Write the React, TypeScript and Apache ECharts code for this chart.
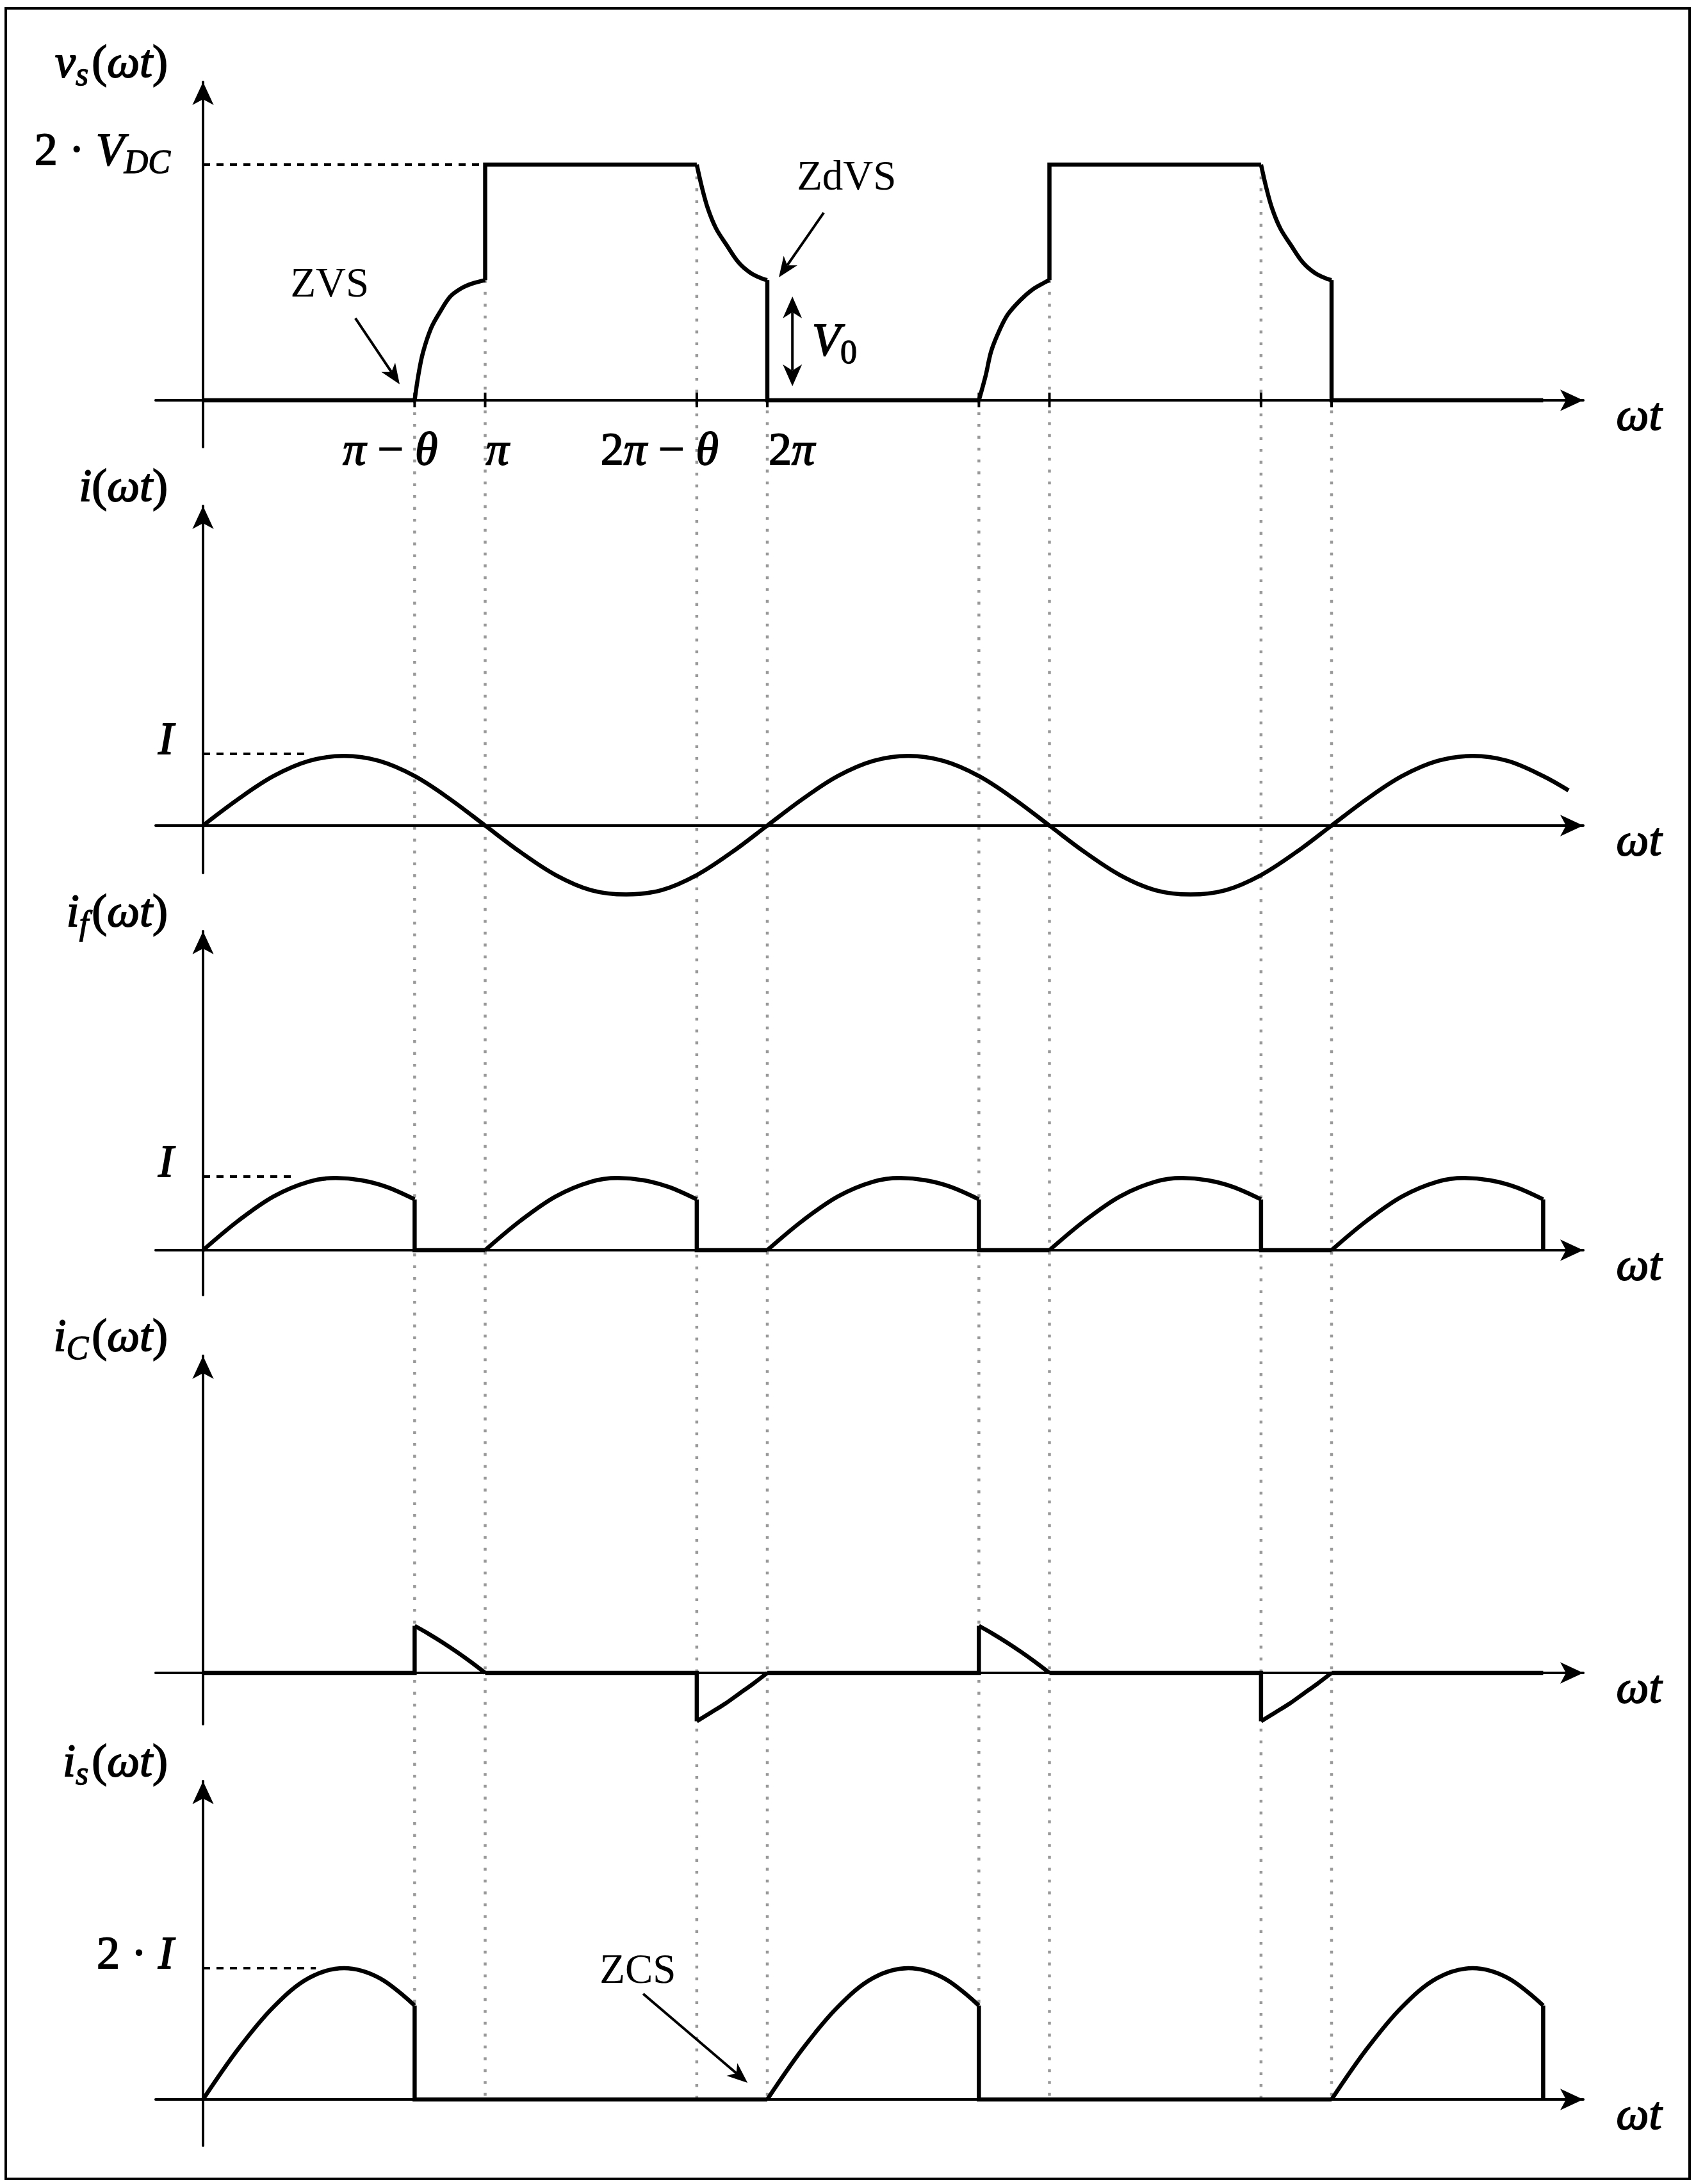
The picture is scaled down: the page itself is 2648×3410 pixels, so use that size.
import React, { useEffect, useRef } from "react";
import * as echarts from "echarts";

// ---------------- data (x in units of π, θ = π/4) ----------------
const TRANSITIONS = [0.75, 1, 1.75, 2, 2.75, 3, 3.75, 4]; // π−θ, π, 2π−θ, 2π, ...
const VS_AT_TRANSITIONS = [0, 1.02, 2, 1.02, 0, 1.02, 2, 1.02];
const TICK_VALUES = [0.75, 1, 1.75, 2];
const TICK_TEXTS = ["{i|π}{u| − }{i|θ}", "{i|π}", "{u|2}{i|π}{u| − }{i|θ}", "{u|2}{i|π}"];

// v_s(ωt) in units of V_DC
const VS_STEPS = [
  [[0, 0], [0.75, 0]],
  [[1, 1.02], [1, 2], [1.75, 2]],
  [[2, 1.02], [2, 0], [2.75, 0]],
  [[3, 1.02], [3, 2], [3.75, 2]],
  [[4, 1.02], [4, 0], [4.75, 0]],
];
const VS_CURVES = [
  [[0.75, 0], [0.763, 0.21], [0.779, 0.4], [0.808, 0.61], [0.84, 0.75], [0.876, 0.88], [0.915, 0.95], [0.953, 0.99], [1, 1.02]],
  [[1.75, 2], [1.768, 1.81], [1.789, 1.63], [1.818, 1.46], [1.855, 1.32], [1.898, 1.17], [1.941, 1.08], [1.984, 1.03], [2, 1.02]],
  [[2.75, 0], [2.774, 0.21], [2.794, 0.42], [2.824, 0.6], [2.853, 0.73], [2.897, 0.85], [2.94, 0.94], [2.983, 1.0], [3, 1.02]],
  [[3.75, 2], [3.768, 1.81], [3.789, 1.63], [3.818, 1.46], [3.855, 1.32], [3.898, 1.17], [3.941, 1.08], [3.984, 1.03], [4, 1.02]],
];
const VS_REF = [[0, 2], [1, 2]];

// i(ωt) in units of I
const I_WAVE = [
  [0, 0], [0.125, 0.37], [0.25, 0.69], [0.375, 0.9], [0.5, 0.97], [0.625, 0.9], [0.75, 0.69], [0.875, 0.37],
  [1, 0], [1.125, -0.37], [1.25, -0.69], [1.375, -0.9], [1.5, -0.96], [1.625, -0.9], [1.75, -0.69], [1.875, -0.37],
  [2, 0], [2.125, 0.37], [2.25, 0.69], [2.375, 0.9], [2.5, 0.97], [2.625, 0.9], [2.75, 0.69], [2.875, 0.37],
  [3, 0], [3.125, -0.37], [3.25, -0.69], [3.375, -0.9], [3.5, -0.96], [3.625, -0.9], [3.75, -0.69], [3.875, -0.37],
  [4, 0], [4.125, 0.37], [4.25, 0.69], [4.375, 0.9], [4.5, 0.97], [4.625, 0.9], [4.75, 0.69], [4.84, 0.49],
];
const I_REF = [[0, 1], [0.37, 1]];

// i_f(ωt) in units of I
const IF_ARCHES = [
  [[0, 0], [0.125, 0.4], [0.25, 0.73], [0.375, 0.93], [0.47, 0.98], [0.56, 0.95], [0.65, 0.86], [0.75, 0.69]],
  [[1, 0], [1.125, 0.4], [1.25, 0.73], [1.375, 0.93], [1.47, 0.98], [1.56, 0.95], [1.65, 0.86], [1.75, 0.69]],
  [[2, 0], [2.125, 0.4], [2.25, 0.73], [2.375, 0.93], [2.47, 0.98], [2.56, 0.95], [2.65, 0.86], [2.75, 0.69]],
  [[3, 0], [3.125, 0.4], [3.25, 0.73], [3.375, 0.93], [3.47, 0.98], [3.56, 0.95], [3.65, 0.86], [3.75, 0.69]],
  [[4, 0], [4.125, 0.4], [4.25, 0.73], [4.375, 0.93], [4.47, 0.98], [4.56, 0.95], [4.65, 0.86], [4.75, 0.69]],
];
const IF_STEPS = [
  [[0.75, 0.69], [0.75, 0], [1, 0]],
  [[1.75, 0.69], [1.75, 0], [2, 0]],
  [[2.75, 0.69], [2.75, 0], [3, 0]],
  [[3.75, 0.69], [3.75, 0], [4, 0]],
  [[4.75, 0.69], [4.75, 0]],
];
const IF_REF = [[0, 1], [0.32, 1]];

// i_C(ωt) in units of I
const IC_STEPS = [
  [[0, 0], [0.75, 0], [0.75, 0.7]],
  [[1, 0], [1.75, 0], [1.75, -0.72]],
  [[2, 0], [2.75, 0], [2.75, 0.7]],
  [[3, 0], [3.75, 0], [3.75, -0.72]],
  [[4, 0], [4.75, 0]],
];
const IC_CURVES = [
  [[0.75, 0.7], [0.8, 0.58], [0.85, 0.45], [0.9, 0.31], [0.95, 0.16], [1, 0]],
  [[1.75, -0.72], [1.8, -0.59], [1.85, -0.46], [1.9, -0.31], [1.95, -0.16], [2, 0]],
  [[2.75, 0.7], [2.8, 0.58], [2.85, 0.45], [2.9, 0.31], [2.95, 0.16], [3, 0]],
  [[3.75, -0.72], [3.8, -0.59], [3.85, -0.46], [3.9, -0.31], [3.95, -0.16], [4, 0]],
];

// i_s(ωt) in units of I
const IS_ARCHES = [
  [[0, 0], [0.125, 0.77], [0.25, 1.41], [0.375, 1.85], [0.5, 2], [0.625, 1.85], [0.75, 1.43]],
  [[2, 0], [2.125, 0.77], [2.25, 1.41], [2.375, 1.85], [2.5, 2], [2.625, 1.85], [2.75, 1.43]],
  [[4, 0], [4.125, 0.77], [4.25, 1.41], [4.375, 1.85], [4.5, 2], [4.625, 1.85], [4.75, 1.43]],
];
const IS_STEPS = [
  [[0.75, 1.43], [0.75, 0], [2, 0]],
  [[2.75, 1.43], [2.75, 0], [4, 0]],
  [[4.75, 1.43], [4.75, 0]],
];
const IS_REF = [[0, 2], [0.4, 2]];

const Y_TITLES = [
  "{i|v}{si|s}{u|(}{i|ωt}{u|)}",
  "{i|i}{u|(}{i|ωt}{u|)}",
  "{i|i}{si|f}{u|(}{i|ωt}{u|)}",
  "{i|i}{si|C}{u|(}{i|ωt}{u|)}",
  "{i|i}{si|s}{u|(}{i|ωt}{u|)}",
];
const LEVEL_LABELS = [
  { panel: 0, value: 2, text: "{u|2 · }{i|V}{si|DC}" },
  { panel: 1, value: 1, text: "{i|I}" },
  { panel: 2, value: 1, text: "{i|I}" },
  { panel: 4, value: 2, text: "{u|2 · }{i|I}" },
];

// ---------------- layout ----------------
const W = 2648;
const H = 3410;
const X_ZERO = 317;
const PX_PER_PI = 440.5;
const X_LEFT = 243;
const X_END = 2472;
const ARROW_W = 25;
const ARROW_H = 36;
const XMIN = (X_LEFT - X_ZERO) / PX_PER_PI;
const XMAX = (X_END - X_ZERO) / PX_PER_PI;
const PANELS = [
  { tip: 110, bottom: 698, base: 625, unit: 184 },
  { tip: 772, bottom: 1363, base: 1289, unit: 112 },
  { tip: 1436, bottom: 2022, base: 1952, unit: 115 },
  { tip: 2099, bottom: 2692, base: 2612, unit: 105 },
  { tip: 2763, bottom: 3350, base: 3278, unit: 102.5 },
];

const SERIF = '"Liberation Serif", "Times New Roman", serif';
const FS = 72;
const SUB = 52;
const INK = { fill: "#000", stroke: "#000", lineWidth: 1.8 };
const RICH: any = {
  i: { fontFamily: SERIF, fontStyle: "italic", fontSize: FS, lineHeight: 90, verticalAlign: "middle", ...INK },
  u: { fontFamily: SERIF, fontSize: FS, lineHeight: 90, verticalAlign: "middle", ...INK },
  si: { fontFamily: SERIF, fontStyle: "italic", fontSize: SUB, lineHeight: 54, verticalAlign: "bottom", padding: [0, 5, 0, 0], ...INK, lineWidth: 1.3 },
  su: { fontFamily: SERIF, fontSize: SUB, lineHeight: 54, verticalAlign: "bottom", ...INK, lineWidth: 1.3 },
  r: { fontFamily: SERIF, fontSize: 65, lineHeight: 90, verticalAlign: "middle", fill: "#000" },
};

function textEl(x: number, y: number, text: string, align: string) {
  return {
    type: "text",
    x,
    y,
    z: 20,
    style: { text, rich: RICH, align, verticalAlign: "middle", fill: "#000", font: `${FS}px ${SERIF}` },
  };
}

function arrowEls(a: number[], b: number[], len: number, wid: number, lw: number) {
  const dx = b[0] - a[0];
  const dy = b[1] - a[1];
  const L = Math.hypot(dx, dy);
  const ux = dx / L;
  const uy = dy / L;
  const nx = -uy;
  const ny = ux;
  const back = [b[0] - ux * len, b[1] - uy * len];
  const notch = [b[0] - ux * len * 0.72, b[1] - uy * len * 0.72];
  return [
    { type: "line", z: 20, shape: { x1: a[0], y1: a[1], x2: notch[0], y2: notch[1] }, style: { stroke: "#000", lineWidth: lw } },
    {
      type: "polygon",
      z: 20,
      shape: { points: [b, [back[0] + (nx * wid) / 2, back[1] + (ny * wid) / 2], notch, [back[0] - (nx * wid) / 2, back[1] - (ny * wid) / 2]] },
      style: { fill: "#000" },
    },
  ];
}

export default function App() {
  const ref = useRef<HTMLDivElement>(null);
  useEffect(() => {
    const el = ref.current!;
    const chart = echarts.init(el, null, { renderer: "svg", width: W, height: H });

    const grid: any[] = [];
    const xAxis: any[] = [];
    const yAxis: any[] = [];
    const series: any[] = [];
    const axisLine = {
      show: true,
      onZero: true,
      lineStyle: { color: "#000", width: 4 },
      symbol: ["none", "arrow"],
      symbolSize: [ARROW_W, ARROW_H],
    };
    PANELS.forEach((P, i) => {
      const top = P.tip + ARROW_H / 2;
      grid.push({ left: X_LEFT, top, width: X_END - X_LEFT, height: P.bottom - top });
      xAxis.push({
        type: "value", gridIndex: i, min: XMIN, max: XMAX, axisLine,
        axisTick: { show: false }, axisLabel: { show: false }, splitLine: { show: false },
      });
      yAxis.push({
        type: "value", gridIndex: i, min: -(P.bottom - P.base) / P.unit, max: (P.base - top) / P.unit, axisLine,
        axisTick: { show: false }, axisLabel: { show: false }, splitLine: { show: false },
      });
    });

    const addLine = (panel: number, data: number[][], smooth: boolean) => {
      series.push({
        type: "line", xAxisIndex: panel, yAxisIndex: panel, data, symbol: "none", silent: true, z: 4, clip: false,
        smooth: smooth ? 0.35 : false,
        lineStyle: { color: "#000", width: 6.5, join: "miter", cap: "butt" },
      });
    };
    const addRef = (panel: number, data: number[][]) => {
      series.push({
        type: "line", xAxisIndex: panel, yAxisIndex: panel, data, symbol: "none", silent: true, z: 3, clip: false,
        lineStyle: { color: "#000", width: 4, type: [11, 10] },
      });
    };
    VS_STEPS.forEach((s) => addLine(0, s, false));
    VS_CURVES.forEach((s) => addLine(0, s, true));
    addRef(0, VS_REF);
    addLine(1, I_WAVE, true);
    addRef(1, I_REF);
    IF_ARCHES.forEach((s) => addLine(2, s, true));
    IF_STEPS.forEach((s) => addLine(2, s, false));
    addRef(2, IF_REF);
    IC_STEPS.forEach((s) => addLine(3, s, false));
    IC_CURVES.forEach((s) => addLine(3, s, true));
    IS_ARCHES.forEach((s) => addLine(4, s, true));
    IS_STEPS.forEach((s) => addLine(4, s, false));
    addRef(4, IS_REF);

    chart.setOption({ animation: false, backgroundColor: "#fff", grid, xAxis, yAxis, series });

    const px = (p: number, x: number, y: number) => chart.convertToPixel({ gridIndex: p }, [x, y]) as number[];
    const els: any[] = [];

    // frame
    els.push({ type: "rect", z: 1, shape: { x: 9, y: 13, width: 2629, height: 3389 }, style: { fill: "none", stroke: "#000", lineWidth: 4 } });

    // dotted guides and ticks
    TRANSITIONS.forEach((t, k) => {
      const a = px(0, t, VS_AT_TRANSITIONS[k]);
      const b = px(4, t, 0);
      els.push({
        type: "line", z: 0,
        shape: { x1: a[0], y1: a[1], x2: b[0], y2: b[1] },
        style: { stroke: "#999999", lineWidth: 4.5, lineDash: [4.5, 14] },
      });
      const c = px(0, t, 0);
      els.push({ type: "line", z: 5, shape: { x1: c[0], y1: c[1] - 12, x2: c[0], y2: c[1] + 11 }, style: { stroke: "#000", lineWidth: 4 } });
    });

    // tick labels
    const tickOffsets = [
      { dx: -38, align: "center" },
      { dx: 1, align: "left" },
      { dx: -58, align: "center" },
      { dx: 2, align: "left" },
    ];
    TICK_VALUES.forEach((t, k) => {
      const c = px(0, t, 0);
      els.push(textEl(c[0] + tickOffsets[k].dx, c[1] + 76, TICK_TEXTS[k], tickOffsets[k].align));
    });

    // axis titles and ωt
    PANELS.forEach((P, i) => {
      const o = px(i, 0, 0);
      els.push(textEl(o[0] - 55, P.tip - 14, Y_TITLES[i], "right"));
      els.push(textEl(X_END + 87, o[1] + 22, "{i|ωt}", "center"));
    });

    // level labels
    LEVEL_LABELS.forEach((L) => {
      const c = px(L.panel, 0, L.value);
      els.push(textEl(c[0] - 46, c[1] - 24, L.text, "right"));
    });

    // annotations
    const zvs = px(0, 0.449, 1.0);
    els.push(textEl(zvs[0], zvs[1], "{r|ZVS}", "center"));
    els.push(...arrowEls(px(0, 0.54, 0.696), px(0, 0.697, 0.136), 32, 26, 4));
    const zdvs = px(0, 2.281, 1.908);
    els.push(textEl(zdvs[0], zdvs[1], "{r|ZdVS}", "center"));
    els.push(...arrowEls(px(0, 2.2, 1.592), px(0, 2.041, 1.043), 32, 26, 4));
    const v0top = px(0, 2.089, 0.88);
    const v0bot = px(0, 2.089, 0.12);
    const v0mid = [(v0top[0] + v0bot[0]) / 2, (v0top[1] + v0bot[1]) / 2];
    els.push(...arrowEls(v0mid, v0top, 34, 30, 4));
    els.push(...arrowEls(v0mid, v0bot, 34, 30, 4));
    const v0l = px(0, 2.159, 0.516);
    els.push(textEl(v0l[0], v0l[1], "{i|V}{su|0}", "left"));
    const zcs = px(4, 1.541, 1.99);
    els.push(textEl(zcs[0], zcs[1], "{r|ZCS}", "center"));
    els.push(...arrowEls(px(4, 1.56, 1.61), px(4, 1.93, 0.254), 32, 26, 4));

    chart.setOption({ graphic: { elements: els } });

    return () => chart.dispose();
  }, []);
  return <div ref={ref} style={{ position: "absolute", left: 0, top: 0, width: W, height: H, background: "#fff" }} />;
}
